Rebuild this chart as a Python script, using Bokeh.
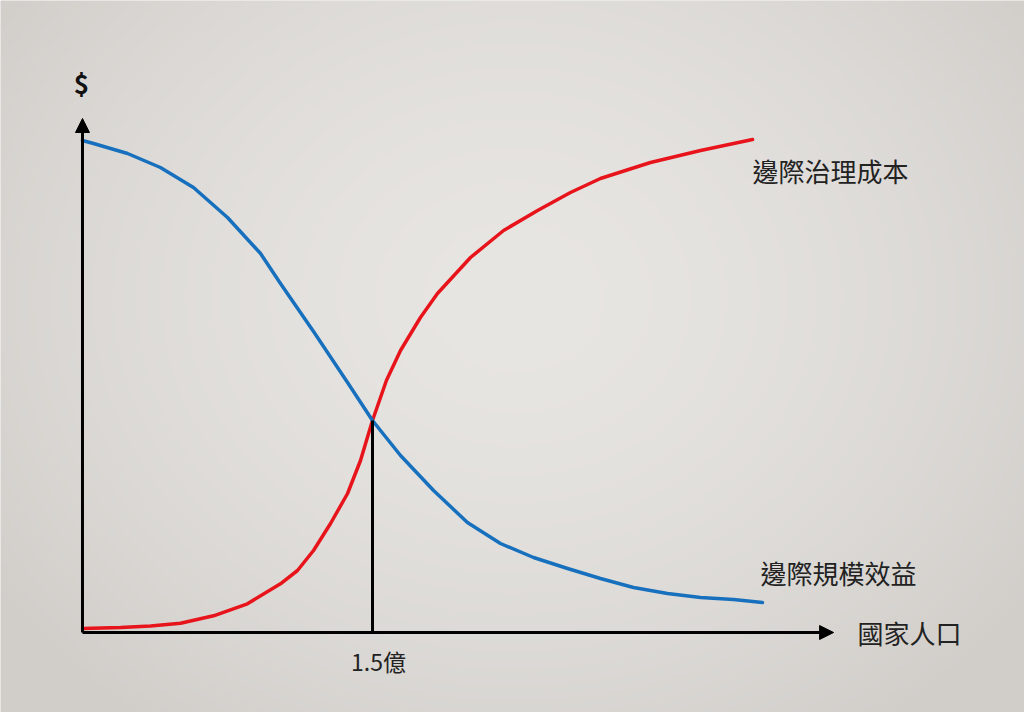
import numpy as np
from bokeh.plotting import figure
from bokeh.models import Range1d, Arrow, NormalHead
from bokeh.core.properties import value
from bokeh.embed import file_html
from bokeh.resources import INLINE

# population (億) and marginal value ($)
benefit_x = [0.0, 0.057, 0.233, 0.403, 0.574, 0.75, 0.921, 1.024, 1.195, 1.371, 1.5, 1.645, 1.816,
             1.991, 2.162, 2.333, 2.509, 2.679, 2.85, 3.026, 3.197, 3.367, 3.517]
benefit_y = [9.84, 9.78, 9.58, 9.3, 8.9, 8.3, 7.58, 6.98, 6.02, 5.0, 4.24, 3.54, 2.84,
             2.2, 1.78, 1.5, 1.28, 1.08, 0.9, 0.78, 0.7, 0.66, 0.6]
cost_x = [0.0, 0.197, 0.352, 0.507, 0.678, 0.853, 1.024, 1.112, 1.195, 1.283, 1.371, 1.438, 1.5,
          1.572, 1.645, 1.748, 1.836, 2.007, 2.178, 2.354, 2.524, 2.679, 2.938, 3.197, 3.466]
cost_y = [0.08, 0.1, 0.13, 0.186, 0.334, 0.574, 0.974, 1.24, 1.64, 2.18, 2.78, 3.44, 4.24,
          5.04, 5.64, 6.3, 6.78, 7.5, 8.04, 8.44, 8.8, 9.08, 9.4, 9.64, 9.86]
eq_x = 1.5
eq_y = 4.24
x_axis_end = 3.885
y_axis_end = 10.28
label_cost = "邊際治理成本"
label_benefit = "邊際規模效益"
label_x = "國家人口"
label_y = "$"
label_eq = "1.5億"

W, H = 1024, 712
x0, x1 = -0.4241, 4.8725
y0, y1 = -1.6, 12.64

p = figure(width=W, height=H, output_backend="svg", toolbar_location=None,
           x_range=Range1d(x0, x1), y_range=Range1d(y0, y1), min_border=0)
p.axis.visible = False
p.grid.visible = False
p.outline_line_color = None
p.background_fill_color = "#e2e0dc"
p.border_fill_color = "#e2e0dc"

# radial background gradient
gw, gh = 256, 178
xx, yy = np.meshgrid(np.arange(gw) / gw, np.arange(gh) / gh)
r = np.sqrt(((xx - 0.5) / 0.62) ** 2 + ((yy - 0.58) / 0.75) ** 2)
t = np.clip(r, 0, 1) ** 1.6
c0 = np.array([0xe8, 0xe6, 0xe3], float)
c1 = np.array([0xd1, 0xce, 0xca], float)
col = c0[None, None, :] * (1 - t[..., None]) + c1[None, None, :] * t[..., None]
img = np.empty((gh, gw), dtype=np.uint32)
view = img.view(dtype=np.uint8).reshape((gh, gw, 4))
view[..., 0] = col[..., 0].astype(np.uint8)
view[..., 1] = col[..., 1].astype(np.uint8)
view[..., 2] = col[..., 2].astype(np.uint8)
view[..., 3] = 255
p.image_rgba(image=[img], x=x0, y=y0, dw=x1 - x0, dh=y1 - y0)

# axes with arrowheads
p.add_layout(Arrow(end=NormalHead(size=14, fill_color="black", line_color="black"),
                   x_start=0, y_start=0, x_end=x_axis_end, y_end=0,
                   line_width=3, line_color="black"))
p.add_layout(Arrow(end=NormalHead(size=14, fill_color="black", line_color="black"),
                   x_start=0, y_start=0, x_end=0, y_end=y_axis_end,
                   line_width=3, line_color="black"))

p.line(cost_x, cost_y, line_color="#e8141b", line_width=3.5, line_cap="round", line_join="round")
p.line(benefit_x, benefit_y, line_color="#1770bd", line_width=3.5, line_cap="round", line_join="round")
p.segment(x0=[eq_x], y0=[0], x1=[eq_x], y1=[eq_y], line_color="black", line_width=3)

cjk = value("Noto Sans CJK TC")
p.text(x=[3.466], y=[9.24], text=[label_cost], text_font=cjk, text_font_size="26px",
       text_color="#222222", text_align="left", text_baseline="middle")
p.text(x=[3.507], y=[1.2], text=[label_benefit], text_font=cjk, text_font_size="26px",
       text_color="#222222", text_align="left", text_baseline="middle")
p.text(x=[4.009], y=[0.0], text=[label_x], text_font=cjk, text_font_size="26px",
       text_color="#222222", text_align="left", text_baseline="middle")
p.text(x=[-0.005], y=[11.0], text=[label_y], text_font=cjk, text_font_size="26px",
       text_font_style="bold", text_color="#111111", text_align="center", text_baseline="middle")
p.text(x=[1.531], y=[-0.56], text=[label_eq], text_font=cjk, text_font_size="23px",
       text_color="#222222", text_align="center", text_baseline="middle")

open("out.html", "w").write(file_html(p, INLINE))
